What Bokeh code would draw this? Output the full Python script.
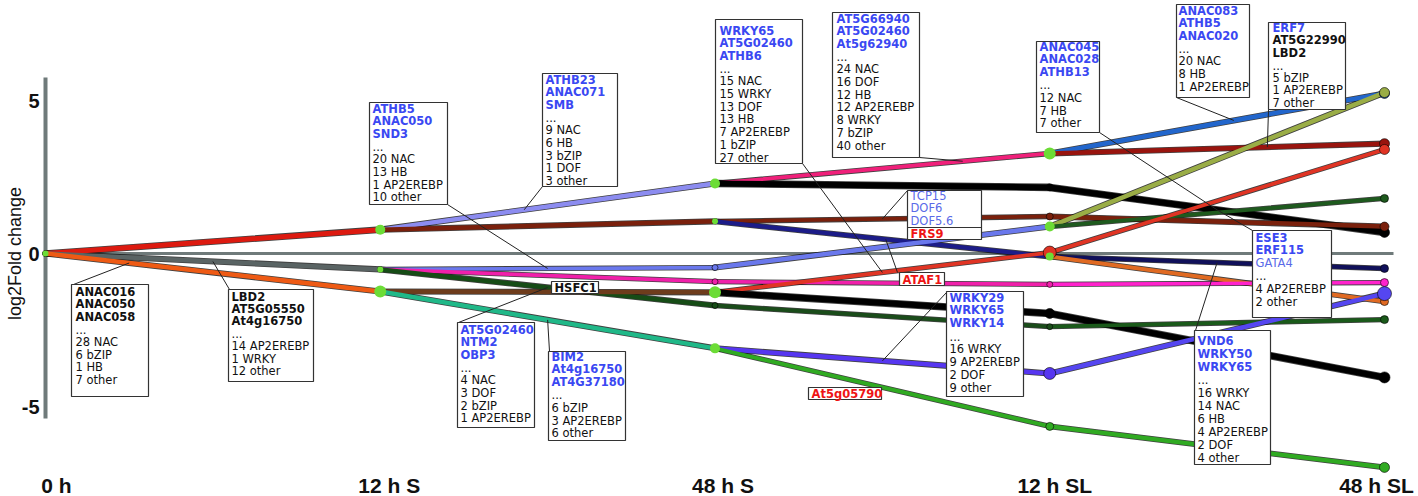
import math
from bokeh.plotting import figure
from bokeh.models import Range1d
from bokeh.embed import file_html
from bokeh.resources import INLINE
from bokeh.core.properties import value

# ---------------- data ----------------
times = ["0 h", "12 h S", "48 h S", "12 h SL", "48 h SL"]
y_ticks = [5, 0, -5]

t0_values = [0.0]

t1_values = [0.78, -0.52, -1.24]
t1_parent = [0, 0, 0]
t1_color = ["#dd1a10", "#5a6464", "#ee5a14"]

t2_values = [2.29, 1.05, -0.46, -0.92, -1.70, -1.27, -3.10]
t2_parent = [0, 0, 1, 1, 1, 2, 2]
t2_color = ["#8c8cf0", "#7a200c", "#6a78ec", "#f020aa", "#164c16", "#6e3c1c", "#20b888"]

t3_values = [3.27, 2.16, 1.21, -0.10, 0.88, -1.01, 0.03, -1.96, -2.39, -3.92, -5.65]
t3_parent = [0, 0, 1, 1, 2, 3, 5, 5, 4, 6, 6]
t3_color = ["#f0207a", "#000000", "#7a200c", "#1c1c88", "#6a78ec", "#f020aa",
            "#e03424", "#000000", "#1a4c1a", "#5636f0", "#30aa22"]

t4_values = [5.23, 3.59, 0.69, 0.88, -0.49, -1.57, 5.26, 1.80, -0.95, 3.40, -4.05, -2.16, -1.31, -6.99]
t4_parent = [0, 0, 1, 2, 3, 3, 4, 4, 5, 6, 7, 8, 9, 10]
t4_color = ["#2266cc", "#99140e", "#000000", "#7a200c", "#10105a", "#e06a22", "#9aad46",
            "#1e5a1e", "#ff22cc", "#e03424", "#000000", "#1a5a1a", "#5546f0", "#30aa22"]

# node colours ("G" = DREM green split node)
t0_node = ["G"]
t1_node = ["G", "G", "G"]
t2_node = ["G", "G", "#6a78ec", "#f020aa", "#164c16", "G", "G"]
t3_node = ["G", "#000000", "#7a200c", "G", "G", "#f020aa", "#e03424", "#000000", "#1a4c1a", "#5636f0", "#30aa22"]

# annotation texts: (text, kind) kind: B=bold blue, K=bold black, N=normal black, L=light blue, R=bold red
box_texts = {
    "ANAC016": [("ANAC016", "K"), ("ANAC050", "K"), ("ANAC058", "K"), ("...", "N"),
                ("28 NAC", "N"), ("6 bZIP", "N"), ("1 HB", "N"), ("7 other", "N")],
    "LBD2": [("LBD2", "K"), ("AT5G05550", "K"), ("At4g16750", "K"), ("...", "N"),
             ("14 AP2EREBP", "N"), ("1 WRKY", "N"), ("12 other", "N")],
    "ATHB5": [("ATHB5", "B"), ("ANAC050", "B"), ("SND3", "B"), ("...", "N"),
              ("20 NAC", "N"), ("13 HB", "N"), ("1 AP2EREBP", "N"), ("10 other", "N")],
    "ATHB23": [("ATHB23", "B"), ("ANAC071", "B"), ("SMB", "B"), ("...", "N"),
               ("9 NAC", "N"), ("6 HB", "N"), ("3 bZIP", "N"), ("1 DOF", "N"), ("3 other", "N")],
    "AT5G02460": [("AT5G02460", "B"), ("NTM2", "B"), ("OBP3", "B"), ("...", "N"),
                  ("4 NAC", "N"), ("3 DOF", "N"), ("2 bZIP", "N"), ("1 AP2EREBP", "N")],
    "BIM2": [("BIM2", "B"), ("At4g16750", "B"), ("AT4G37180", "B"), ("...", "N"),
             ("6 bZIP", "N"), ("3 AP2EREBP", "N"), ("6 other", "N")],
    "WRKY65": [("WRKY65", "B"), ("AT5G02460", "B"), ("ATHB6", "B"), ("...", "N"),
               ("15 NAC", "N"), ("15 WRKY", "N"), ("13 DOF", "N"), ("13 HB", "N"),
               ("7 AP2EREBP", "N"), ("1 bZIP", "N"), ("27 other", "N")],
    "AT5G66940": [("AT5G66940", "B"), ("AT5G02460", "B"), ("At5g62940", "B"), ("...", "N"),
                  ("24 NAC", "N"), ("16 DOF", "N"), ("12 HB", "N"), ("12 AP2EREBP", "N"),
                  ("8 WRKY", "N"), ("7 bZIP", "N"), ("40 other", "N")],
    "TCP15": [("TCP15", "L"), ("DOF6", "L"), ("DOF5.6", "L"), ("FRS9", "R")],
    "ATAF1": [("ATAF1", "R")],
    "HSFC1": [("HSFC1", "K")],
    "At5g05790": [("At5g05790", "R")],
    "WRKY29": [("WRKY29", "B"), ("WRKY65", "B"), ("WRKY14", "B"), ("...", "N"),
               ("16 WRKY", "N"), ("9 AP2EREBP", "N"), ("2 DOF", "N"), ("9 other", "N")],
    "ANAC045": [("ANAC045", "B"), ("ANAC028", "B"), ("ATHB13", "B"), ("...", "N"),
                ("12 NAC", "N"), ("7 HB", "N"), ("7 other", "N")],
    "ANAC083": [("ANAC083", "B"), ("ATHB5", "B"), ("ANAC020", "B"), ("...", "N"),
                ("20 NAC", "N"), ("8 HB", "N"), ("1 AP2EREBP", "N")],
    "ERF7": [("ERF7", "B"), ("AT5G22990", "K"), ("LBD2", "K"), ("...", "N"),
             ("5 bZIP", "N"), ("1 AP2EREBP", "N"), ("7 other", "N")],
    "ESE3": [("ESE3", "B"), ("ERF115", "B"), ("GATA4", "L"), ("...", "N"),
             ("4 AP2EREBP", "N"), ("2 other", "N")],
    "VND6": [("VND6", "B"), ("WRKY50", "B"), ("WRKY65", "B"), ("...", "N"),
             ("16 WRKY", "N"), ("14 NAC", "N"), ("6 HB", "N"), ("4 AP2EREBP", "N"),
             ("2 DOF", "N"), ("4 other", "N")],
}

# ---------------- layout (page pixels) ----------------
W, H = 1418, 496
OFF = 0                         # page offset of the figure
X0PX, XSTEP = 45.0, 334.75      # page x of 0 h, px per time step
Y0PX, YSTEP = 253.0, 30.6       # page y of log2FC 0, px per unit

def X(px):
    return (px - X0PX) / XSTEP

def Y(py):
    return (Y0PX - py) / YSTEP

# box geometry: left, top, right, bottom, text-left, first-line centre, line spacing
box_geom = {
    "ANAC016": (71, 284, 148, 396, 75, 291, 12.6),
    "LBD2": (228, 289, 313, 381, 231, 296, 12.4),
    "ATHB5": (369, 102, 447, 204, 372, 108, 12.7),
    "ATHB23": (542, 73, 617, 186, 545, 79, 12.7),
    "AT5G02460": (457, 322, 534, 427, 460, 329, 12.7),
    "BIM2": (548, 351, 625, 440, 551, 356, 12.8),
    "WRKY65": (715, 19, 802, 163, 719, 30, 12.7),
    "AT5G66940": (832, 12, 919, 157, 836, 18, 12.7),
    "TCP15": (907, 190, 981, 239, 910, 195, 12.8),
    "ATAF1": (899, 272, 944, 285, 902, 279, 12.7),
    "HSFC1": (551, 281, 598, 293, 554, 287, 12.7),
    "At5g05790": (808, 387, 881, 399, 811, 393, 12.7),
    "WRKY29": (946, 291, 1023, 396, 949, 297, 12.9),
    "ANAC045": (1036, 41, 1099, 132, 1039, 46, 12.8),
    "ANAC083": (1176, 4, 1249, 97, 1178, 10, 12.7),
    "ERF7": (1268, 22, 1345, 109, 1272, 27, 12.5),
    "ESE3": (1252, 230, 1331, 317, 1255, 237, 12.8),
    "VND6": (1194, 330, 1270, 464, 1197, 340, 13.0),
}

# connectors: box corner (page px) -> point on an edge (tier, index, fraction)
connectors = [
    ((73, 284), (1, 2, 0.25)),
    ((229, 289), (1, 1, 0.50)),
    ((447, 204), (2, 2, 0.50)),
    ((542, 186), (2, 0, 0.43)),
    ((458, 322), (2, 4, 0.50)),
    ((549, 351), (2, 6, 0.50)),
    ((802, 163), (3, 6, 0.50)),
    ((897, 272), (3, 3, 0.51)),
    ((919, 157), (3, 0, 0.74)),
    ((907, 190), (3, 2, 0.50)),
    ((946, 292), (3, 9, 0.50)),
    ((1099, 132), (4, 2, 0.50)),
    ((1252, 230), (4, 2, 0.50)),
    ((1176, 97), (4, 0, 0.55)),
    ((1268, 109), (4, 1, 0.65)),
    ((1195, 330), (4, 4, 0.50)),
]

tiers = [
    (t1_values, t1_parent, t1_color, t0_values, [5, 4.5, 4.5]),
    (t2_values, t2_parent, t2_color, t1_values, [4.5, 4.5, 3.6, 3.6, 4.5, 4.5, 4.5]),
    (t3_values, t3_parent, t3_color, t2_values, [3.8, 6, 3.8, 4.2, 4.5, 3.6, 3.8, 6, 3.8, 4.5, 3.8]),
    (t4_values, t4_parent, t4_color, t3_values, [4.5, 4.5, 6, 4.5, 4, 4, 4.5, 3.8, 3.6, 3.8, 6, 3.8, 4.5, 4.2]),
]

p = figure(width=W, height=H, output_backend="svg", toolbar_location=None,
           x_range=Range1d(X(OFF), X(OFF + W)), y_range=Range1d(Y(OFF + H), Y(OFF)),
           x_axis_location=None, y_axis_location=None, min_border=0)
p.grid.visible = False
p.outline_line_color = None
p.background_fill_color = "white"

GRAY = "#6f7a7a"
# zero line and y axis line
p.segment(x0=[0], y0=[0], x1=[X(1393)], y1=[0], line_color=GRAY, line_width=3)
p.segment(x0=[0], y0=[Y(77)], x1=[0], y1=[Y(418)], line_color=GRAY, line_width=4)

# edges
for k, (vals, par, cols, prev, widths) in enumerate(tiers, start=1):
    x0 = [k - 1] * len(vals)
    x1 = [k] * len(vals)
    y0 = [prev[i] for i in par]
    p.segment(x0=x0, y0=y0, x1=x1, y1=vals, line_color="#000000", line_alpha=0.75,
              line_width=[w + 1.6 for w in widths], line_cap="round")
    p.segment(x0=x0, y0=y0, x1=x1, y1=vals, line_color=cols,
              line_width=widths, line_cap="round")

# nodes
GREEN = "#6cdc36"
node_sets = [
    (0, t0_values, t0_node, [6]),
    (1, t1_values, t1_node, [10, 6, 12]),
    (2, t2_values, t2_node, [10, 6, 6, 6, 6, 12, 10]),
    (3, t3_values, t3_node, [12, 6, 7, 8, 10, 6, 13, 10, 6, 12, 8]),
]
for t, vals, cols, sizes in node_sets:
    for green_pass in (False, True):
        xs, ys, cs, ss = [], [], [], []
        for v, c, s in zip(vals, cols, sizes):
            if (c == "G") == green_pass:
                xs.append(t); ys.append(v); cs.append(GREEN if c == "G" else c); ss.append(s)
        if xs:
            p.scatter(x=xs, y=ys, size=ss, fill_color=cs,
                      line_color=None if green_pass else "#000000", line_alpha=0.6, line_width=1)
end_sizes = [10, 10, 10, 9, 8, 8, 10, 8, 8, 10, 11, 8, 14, 10]
p.scatter(x=[4] * len(t4_values), y=t4_values, size=end_sizes, fill_color=t4_color,
          line_color="#000000", line_alpha=0.6, line_width=1)

# connectors
def edge_point(tier, idx, frac):
    vals, par, cols, prev, widths = tiers[tier - 1]
    ya = prev[par[idx]]
    yb = vals[idx]
    return (tier - 1 + frac, ya + (yb - ya) * frac)

cx0, cy0, cx1, cy1 = [], [], [], []
for (bx, by), (tier, idx, frac) in connectors:
    ex, ey = edge_point(tier, idx, frac)
    cx0.append(X(bx)); cy0.append(Y(by)); cx1.append(ex); cy1.append(ey)
p.segment(x0=cx0, y0=cy0, x1=cx1, y1=cy1, line_color="#222222", line_width=1)

# boxes
kind_style = {
    "B": ("#3a48f2", "bold"),
    "K": ("#111111", "bold"),
    "N": ("#111111", "normal"),
    "L": ("#5a6ae8", "normal"),
    "R": ("#ee1414", "bold"),
}
BOXFONT = value("DejaVu Sans")
for name, lines in box_texts.items():
    L, T, R, B, tl, c0, sp = box_geom[name]
    p.quad(left=[X(L)], right=[X(R)], top=[Y(T)], bottom=[Y(B)], fill_color="white",
           line_color="#333333", line_width=1.2)
    if name == "TCP15":
        p.segment(x0=[X(L)], y0=[Y(227)], x1=[X(R)], y1=[Y(227)], line_color="#333333", line_width=1.2)
    for style in ("normal", "bold"):
        xs, ys, ts, cs = [], [], [], []
        for j, (txt, kind) in enumerate(lines):
            col, st = kind_style[kind]
            if st != style:
                continue
            cy = c0 + j * sp
            if name == "TCP15" and kind == "R":
                cy = 233
            xs.append(X(tl)); ys.append(Y(cy)); ts.append(txt); cs.append(col)
        if xs:
            p.text(x=xs, y=ys, text=ts, text_color=cs, text_font=BOXFONT,
                   text_font_size="11.5px", text_font_style=style,
                   text_baseline="middle", text_align="left")

# axis labels (y ticks, x time labels, y title)
AXFONT = value("Liberation Sans")
p.text(x=[0] * len(y_ticks), y=y_ticks, text=[str(v) for v in y_ticks], x_offset=-6,
       text_font=AXFONT, text_font_size="20px", text_font_style="bold",
       text_align="right", text_baseline="middle", text_color="#111111")
x_offsets = [11, 9, 8, 5, -8]
p.text(x=list(range(len(times))), y=[Y(485)] * len(times), text=times, x_offset=x_offsets,
       text_font=AXFONT, text_font_size="21px", text_font_style="bold",
       text_align="center", text_baseline="middle", text_color="#111111")
p.text(x=[X(14)], y=[0], text=["log2Fold change"], angle=math.pi / 2,
       text_font=AXFONT, text_font_size="18px", text_align="center",
       text_baseline="middle", text_color="#111111")

open("out.html", "w").write(file_html(p, INLINE))
